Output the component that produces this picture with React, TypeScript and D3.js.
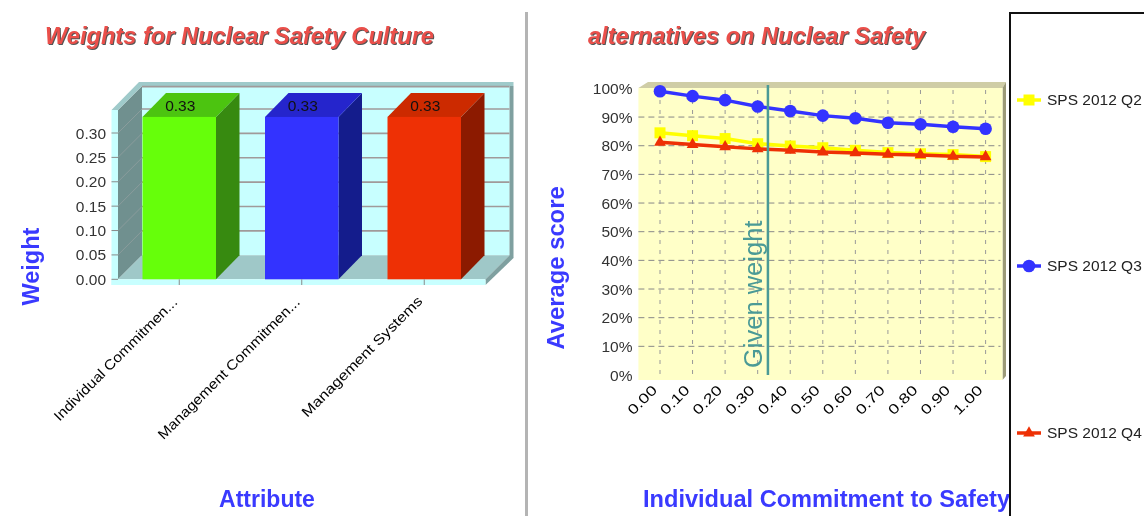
import React from "react";
import * as d3 from "d3";

const attributes = ["Individual Commitmen...", "Management Commitmen...", "Management Systems"];
const weights = [0.333, 0.333, 0.333];
const weightLabels = ["0.33", "0.33", "0.33"];
const weightTicks = [0, 0.05, 0.1, 0.15, 0.2, 0.25, 0.3];
const attributeLabelLengths = [168, 194, 164];

const xValues = [0, 0.1, 0.2, 0.3, 0.4, 0.5, 0.6, 0.7, 0.8, 0.9, 1.0];
const q2 = [84.5, 83.5, 82.5, 80.7, 79.9, 79.3, 78.4, 77.6, 77.2, 76.9, 76.2];
const q3 = [99.0, 97.3, 95.9, 93.7, 92.1, 90.5, 89.6, 88.0, 87.5, 86.6, 85.9];
const q4 = [81.2, 80.4, 79.6, 78.9, 78.4, 77.8, 77.5, 77.0, 76.8, 76.3, 76.1];
const percentTicks = [0, 10, 20, 30, 40, 50, 60, 70, 80, 90, 100];
const givenWeight = 0.333;

const FONT = "'Liberation Sans', Arial, sans-serif";
const AXIS_BLUE = "#3a3aff";
const TITLE_RED = "#ea4f4a";

const barFaces = [
  { front: "#66ff0a", top: "#4cc410", side: "#378a10" },
  { front: "#3333ff", top: "#2525cc", side: "#141c8c" },
  { front: "#ee3005", top: "#cc2a00", side: "#8c1a00" },
];

const seriesStyles = [
  { name: "SPS 2012 Q2", values: q2, color: "#ffff00", symbol: d3.symbolSquare, size: 121, legendY: 100 },
  { name: "SPS 2012 Q3", values: q3, color: "#3333ff", symbol: d3.symbolCircle, size: 125, legendY: 266 },
  { name: "SPS 2012 Q4", values: q4, color: "#ee3005", symbol: d3.symbolTriangle, size: 60, legendY: 433 },
];

function BarPanel() {
  const x0 = 118, x1 = 485.5, dx = 24, dy = 24;
  const floorY = 279.3;
  const y = d3.scaleLinear().domain([0, 0.3]).range([floorY, 133]);
  const x = d3.scaleBand<string>().domain(attributes).range([x0, x1]).paddingInner(0.4).paddingOuter(0.2);
  const poly = (pts: number[][]) => pts.map((p) => p.join(",")).join(" ");
  const topBack = 86;

  return (
    <g fontFamily={FONT}>
      <rect x={x0 + dx} y={topBack} width={x1 - x0} height={floorY - dy - topBack} fill="#c8ffff" />
      <polygon points={poly([[x0, 110], [x0 + dx, topBack], [x0 + dx, floorY - dy], [x0, floorY]])} fill="#70908f" />
      <polygon points={poly([[x0, floorY], [x0 + dx, floorY - dy], [x1 + dx, floorY - dy], [x1, floorY]])} fill="#9fc8c8" />
      <polygon points={poly([[111.5, 110], [x0, 110], [x0 + dx, topBack], [513.5, topBack], [513.5, 82], [139, 82]])} fill="#9fcaca" />
      <rect x={x1 + dx} y={topBack} width={4} height={172} fill="#7fa0a0" />
      <polygon points={poly([[x1, floorY], [x1 + dx, floorY - dy], [513.5, 258], [x1, 285]])} fill="#7fa0a0" />
      <rect x={111.5} y={110} width={6.5} height={175} fill="#c8ffff" />
      <rect x={111.5} y={floorY} width={x1 - 111.5} height={5.7} fill="#c8ffff" />
      {weightTicks.map((t) => (
        <g key={t}>
          {t > 0 && <line x1={x0 + dx} x2={x1 + dx} y1={y(t) - dy} y2={y(t) - dy} stroke="#a09a9a" strokeWidth={1.6} />}
          {t > 0 && <line x1={x0} x2={x0 + dx} y1={y(t)} y2={y(t) - dy} stroke="#8a9c9c" strokeWidth={1} />}
          <line x1={111.5} x2={x0} y1={y(t)} y2={y(t)} stroke="#8a8a8a" strokeWidth={1} />
          <text x={106} y={y(t) + 5.5} textAnchor="end" fontSize={15.5} fill="#333">{t.toFixed(2)}</text>
        </g>
      ))}
      <line x1={x0 + dx} x2={x1 + dx} y1={y(0.35) - dy + 2} y2={y(0.35) - dy + 2} stroke="#a09a9a" strokeWidth={1.6} />
      {attributes.map((a, i) => {
        const bx = x(a) as number;
        const w = x.bandwidth();
        const top = y(weights[i]);
        const c = barFaces[i];
        const cx = bx + w / 2;
        return (
          <g key={a}>
            <polygon points={poly([[bx + w, top], [bx + w + dx - 0.5, top - dy], [bx + w + dx - 0.5, floorY - dy], [bx + w, floorY]])} fill={c.side} />
            <polygon points={poly([[bx, top], [bx + dx - 0.5, top - dy], [bx + w + dx - 0.5, top - dy], [bx + w, top]])} fill={c.top} />
            <rect x={bx} y={top} width={w} height={floorY - top} fill={c.front} />
            <line x1={cx} x2={cx} y1={floorY} y2={285} stroke="#8a8a8a" />
            <text x={cx + 1} y={top - 6} textAnchor="middle" fontSize={15.5} fill="#111">{weightLabels[i]}</text>
            <text
              transform={`translate(${cx - 1},${i === 2 ? 302 : 303}) rotate(-45)`}
              textAnchor="end"
              fontSize={14}
              fill="#000"
              textLength={attributeLabelLengths[i]}
              lengthAdjust="spacingAndGlyphs"
            >{a}</text>
          </g>
        );
      })}
      <text transform="translate(39,305.5) rotate(-90)" fontSize={23.5} fontWeight="bold" fill={AXIS_BLUE}>Weight</text>
      <text x={267} y={507} textAnchor="middle" fontSize={23} fontWeight="bold" fill={AXIS_BLUE}>Attribute</text>
      <text x={45} y={44} fontSize={23.6} fontWeight="bold" fontStyle="italic" fill={TITLE_RED} style={{ filter: "drop-shadow(1px 1px 0.6px #555)" }}>
        Weights for Nuclear Safety Culture
      </text>
    </g>
  );
}

function LinePanel() {
  const left = 638.4, right = 1002.5, bottom = 380;
  const x = d3.scaleLinear().domain([0, 1]).range([660, 985.6]);
  const y = d3.scaleLinear().domain([0, 100]).range([375, 88.4]);
  const line = d3.line<number>().x((_, i) => x(xValues[i])).y((d) => y(d));

  return (
    <g fontFamily={FONT}>
      <polygon points={`${left},88 648,82 1006,82 ${right},88`} fill="#cfcda6" />
      <polygon points={`${right},88 1006,82 1006,376 ${right},${bottom}`} fill="#9c9a78" />
      <rect x={left} y={88} width={right - left} height={bottom - 88} fill="#ffffc8" />
      {percentTicks.map((t) => (
        <g key={t}>
          {t > 0 && t < 100 && (
            <line x1={left} x2={right - 2} y1={y(t)} y2={y(t)} stroke="#888" strokeWidth={1} strokeDasharray="6 4" />
          )}
          <text x={632.5} y={y(t) + 5.5} textAnchor="end" fontSize={15.5} fill="#333">{t}%</text>
        </g>
      ))}
      {xValues.map((v) => (
        <g key={v}>
          <line x1={x(v)} x2={x(v)} y1={90} y2={bottom} stroke="#999" strokeWidth={1} strokeDasharray="4 6" />
          <text
            transform={`translate(${x(v) - 2},391) rotate(-45)`}
            textAnchor="end"
            fontSize={14}
            fill="#000"
            textLength={35}
            lengthAdjust="spacingAndGlyphs"
          >{v.toFixed(2)}</text>
        </g>
      ))}
      {seriesStyles.map((s) => (
        <g key={s.name}>
          <path d={line(s.values) as string} fill="none" stroke={s.color} strokeWidth={3.5} />
          {s.values.map((d, i) => (
            <path
              key={i}
              transform={`translate(${x(xValues[i])},${y(d)})`}
              d={d3.symbol().type(s.symbol).size(s.size)() as string}
              fill={s.color}
            />
          ))}
        </g>
      ))}
      <line x1={x(givenWeight) - 0.5} x2={x(givenWeight) - 0.5} y1={85} y2={375} stroke="#4a9a96" strokeWidth={2.5} />
      <text transform="translate(762,368) rotate(-90)" fontSize={25.5} fill="#4a9a96">Given weight</text>
      <text transform="translate(563.5,349.5) rotate(-90)" fontSize={23.8} fontWeight="bold" fill={AXIS_BLUE}>Average score</text>
      <text x={643} y={507} fontSize={23.6} fontWeight="bold" fill={AXIS_BLUE}>Individual Commitment to Safety</text>
      <text x={588} y={44} fontSize={23.6} fontWeight="bold" fontStyle="italic" fill={TITLE_RED} style={{ filter: "drop-shadow(1px 1px 0.6px #555)" }}>
        alternatives on Nuclear Safety
      </text>
      <rect x={1010} y={13} width={150} height={520} fill="#fff" stroke="#111" strokeWidth={2} />
      {seriesStyles.map((s) => (
        <g key={s.name}>
          <line x1={1017} x2={1041} y1={s.legendY} y2={s.legendY} stroke={s.color} strokeWidth={3.5} />
          <path
            transform={`translate(1029,${s.legendY})`}
            d={d3.symbol().type(s.symbol).size(s.size)() as string}
            fill={s.color}
          />
          <text x={1047} y={s.legendY + 5} fontSize={15.5} fill="#222">{s.name}</text>
        </g>
      ))}
    </g>
  );
}

export default function App() {
  return (
    <svg
      width={1144}
      height={516}
      viewBox="0 0 1144 516"
      style={{ position: "absolute", left: 0, top: 0, background: "#fff", filter: "blur(0.35px)" }}
    >
      <rect x={525} y={12} width={3} height={504} fill="#b4b4b4" />
      <BarPanel />
      <LinePanel />
    </svg>
  );
}
